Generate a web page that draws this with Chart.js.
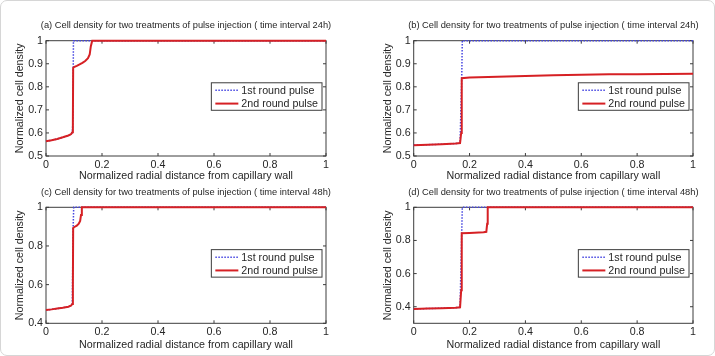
<!DOCTYPE html>
<html>
<head>
<meta charset="utf-8">
<script src="https://cdn.jsdelivr.net/npm/chart.js@4.4.0/dist/chart.umd.min.js"></script>
<style>
body { margin: 0; background: #fff; }
#wrap { position: relative; width: 715px; height: 356px; overflow: hidden; }
#frame { position: absolute; left: 0; top: 0; width: 713px; height: 354px; border: 1px solid #d6d6d6; border-radius: 7px; pointer-events: none; }
#wrap canvas { position: absolute; }
</style>
</head>
<body>
<div id="wrap">
    <canvas id="chartA" width="357" height="184" style="left:0;top:0"></canvas>
    <canvas id="chartB" width="358" height="184" style="left:357px;top:0"></canvas>
    <canvas id="chartC" width="357" height="172" style="left:0;top:184px"></canvas>
    <canvas id="chartD" width="358" height="172" style="left:357px;top:184px"></canvas>
    <div id="frame"></div>
</div>
<script>
// (a) 24h, first treatment / second treatment
var distA1 = [0, 0.02, 0.04, 0.06, 0.08, 0.09, 0.094, 0.096, 0.098, 1];
var densA1 = [0.564, 0.568, 0.574, 0.581, 0.589, 0.595, 0.603, 0.65, 1, 1];
var distA2 = [0, 0.02, 0.04, 0.06, 0.08, 0.09, 0.094, 0.096, 0.097, 0.1, 0.11, 0.12, 0.13, 0.14, 0.15, 0.156, 0.16, 0.165, 1];
var densA2 = [0.564, 0.568, 0.574, 0.581, 0.589, 0.595, 0.603, 0.65, 0.882, 0.886, 0.891, 0.897, 0.904, 0.912, 0.924, 0.94, 0.975, 1, 1];

// (b) 24h
var distB1 = [0, 0.05, 0.1, 0.15, 0.166, 0.172, 0.174, 1];
var densB1 = [0.547, 0.549, 0.551, 0.554, 0.556, 0.84, 1, 1];
var distB2 = [0, 0.05, 0.1, 0.15, 0.166, 0.17, 0.172, 0.2, 0.3, 0.4, 0.5, 0.6, 0.7, 0.8, 0.9, 1];
var densB2 = [0.547, 0.549, 0.551, 0.554, 0.556, 0.6, 0.837, 0.84, 0.844, 0.847, 0.85, 0.852, 0.854, 0.855, 0.856, 0.857];

// (c) 48h
var distC1 = [0, 0.02, 0.04, 0.06, 0.08, 0.09, 0.094, 0.097, 0.099, 1];
var densC1 = [0.469, 0.472, 0.476, 0.48, 0.486, 0.492, 0.5, 0.9, 1, 1];
var distC2 = [0, 0.02, 0.04, 0.06, 0.08, 0.09, 0.094, 0.096, 0.097, 0.1, 0.11, 0.117, 0.122, 0.125, 0.128, 1];
var densC2 = [0.469, 0.472, 0.476, 0.48, 0.486, 0.492, 0.5, 0.6, 0.893, 0.897, 0.905, 0.915, 0.93, 0.96, 1, 1];

// (d) 48h
var distD1 = [0, 0.05, 0.1, 0.15, 0.166, 0.172, 0.174, 1];
var densD1 = [0.387, 0.389, 0.391, 0.394, 0.397, 0.85, 1, 1];
var distD2 = [0, 0.05, 0.1, 0.15, 0.166, 0.17, 0.172, 0.2, 0.25, 0.26, 0.263, 0.265, 1];
var densD2 = [0.387, 0.389, 0.391, 0.394, 0.397, 0.5, 0.843, 0.845, 0.85, 0.852, 0.9, 1, 1];

var xTicks = [0, 0.2, 0.4, 0.6, 0.8, 1];
var yTicksTop = [0.5, 0.6, 0.7, 0.8, 0.9, 1];
var yTicksBottom = [0.4, 0.6, 0.8, 1];
var seriesNames = ['1st round pulse', '2nd round pulse'];
var panelTitles = [
    '(a) Cell density for two treatments of pulse injection ( time interval 24h)',
    '(b) Cell density for two treatments of pulse injection ( time interval 24h)',
    '(c) Cell density for two treatments of pulse injection ( time interval 48h)',
    '(d) Cell density for two treatments of pulse injection ( time interval 48h)'
];
var xLabel = 'Normalized radial distance from capillary wall';
var yLabel = 'Normalized cell density';

var fontName = '"Liberation Sans", Arial, Helvetica, sans-serif';
var textColor = '#262626';
var axisColor = '#3c3c3c';

function toPoints(xs, ys) {
    return xs.map(function (x, i) { return { x: x, y: ys[i] }; });
}

// MATLAB style box, inward ticks, title and legend
var matlabFrame = {
    id: 'matlabFrame',
    beforeDatasetsDraw: function (chart, args, opts) {
        var ctx = chart.ctx, a = chart.chartArea;
        var sx = chart.scales.x, sy = chart.scales.y;
        ctx.save();
        ctx.strokeStyle = axisColor;
        ctx.lineWidth = 1;
        ctx.strokeRect(a.left, a.top, a.right - a.left, a.bottom - a.top);
        ctx.beginPath();
        sx.ticks.forEach(function (t) {
            var px = sx.getPixelForValue(t.value);
            ctx.moveTo(px, a.bottom); ctx.lineTo(px, a.bottom - 3);
            ctx.moveTo(px, a.top); ctx.lineTo(px, a.top + 3);
        });
        sy.ticks.forEach(function (t) {
            var py = sy.getPixelForValue(t.value);
            ctx.moveTo(a.left, py); ctx.lineTo(a.left + 3, py);
            ctx.moveTo(a.right, py); ctx.lineTo(a.right - 3, py);
        });
        ctx.stroke();

        ctx.fillStyle = textColor;
        ctx.font = '9.3px ' + fontName;
        ctx.textAlign = 'center';
        ctx.textBaseline = 'middle';
        ctx.fillText(opts.title, (a.left + a.right) / 2, a.top - 15);
        ctx.restore();
    },
    afterDatasetsDraw: function (chart) {
        var ctx = chart.ctx, a = chart.chartArea;
        var sets = chart.data.datasets;
        ctx.save();
        ctx.font = '10.7px ' + fontName;
        var w = 0;
        sets.forEach(function (d) { w = Math.max(w, ctx.measureText(d.label).width); });
        var bw = 30 + w + 4, bh = 27.5;
        var bx = a.right - 4 - bw;
        var by = a.top + 0.365 * (a.bottom - a.top);
        ctx.fillStyle = '#fff';
        ctx.fillRect(bx, by, bw, bh);
        ctx.strokeStyle = axisColor;
        ctx.lineWidth = 1;
        ctx.strokeRect(bx, by, bw, bh);
        sets.forEach(function (d, i) {
            var ly = by + 7.5 + i * 13.3;
            ctx.strokeStyle = d.borderColor;
            ctx.lineWidth = d.borderWidth;
            ctx.setLineDash(d.borderDash || []);
            ctx.beginPath();
            ctx.moveTo(bx + 4, ly);
            ctx.lineTo(bx + 27, ly);
            ctx.stroke();
            ctx.setLineDash([]);
            ctx.fillStyle = textColor;
            ctx.textAlign = 'left';
            ctx.textBaseline = 'middle';
            ctx.fillText(d.label, bx + 30, ly + 0.5);
        });
        ctx.restore();
    }
};

function makePanel(id, title, d1, y1, d2, y2, yMin, yTicks, box) {
    var tickFont = { family: fontName, size: 10.7 };
    new Chart(document.getElementById(id), {
        type: 'line',
        data: {
            datasets: [{
                label: seriesNames[0],
                data: toPoints(d1, y1),
                borderColor: 'rgb(70,70,225)',
                borderWidth: 1.5,
                borderDash: [1.5, 1.5],
                pointRadius: 0,
                fill: false,
                clip: false,
                order: 2
            }, {
                label: seriesNames[1],
                data: toPoints(d2, y2),
                borderColor: 'rgb(214,32,36)',
                borderWidth: 2,
                pointRadius: 0,
                fill: false,
                clip: false,
                order: 1
            }]
        },
        options: {
            responsive: false,
            animation: false,
            layout: { padding: { top: box.top, right: box.right, left: 0, bottom: 0 } },
            plugins: {
                legend: { display: false },
                tooltip: { enabled: false },
                matlabFrame: { title: title }
            },
            scales: {
                x: {
                    type: 'linear',
                    min: 0,
                    max: 1,
                    afterBuildTicks: function (s) { s.ticks = xTicks.map(function (v) { return { value: v }; }); },
                    afterFit: function (s) { s.height = box.xh; },
                    grid: { display: false, drawTicks: false },
                    border: { display: false },
                    ticks: { autoSkip: false, maxRotation: 0, padding: 2.5, color: textColor, font: tickFont,
                        callback: function (v) { return String(v); } },
                    title: { display: true, text: xLabel, color: textColor, font: tickFont,
                        padding: { top: 0, bottom: box.xtb } }
                },
                y: {
                    type: 'linear',
                    min: yMin,
                    max: 1,
                    afterBuildTicks: function (s) { s.ticks = yTicks.map(function (v) { return { value: v }; }); },
                    afterFit: function (s) { s.width = box.yw; },
                    grid: { display: false, drawTicks: false },
                    border: { display: false },
                    ticks: { autoSkip: false, padding: 3, color: textColor, font: tickFont,
                        callback: function (v) { return String(v); } },
                    title: { display: true, text: yLabel, color: textColor, font: tickFont,
                        padding: { top: box.yw - 26 - 6.4, bottom: 0 } }
                }
            }
        },
        plugins: [matlabFrame]
    });
}

makePanel('chartA', panelTitles[0], distA1, densA1, distA2, densA2, 0.5, yTicksTop,
    { top: 40.7, right: 31, yw: 46, xh: 28, xtb: 1.1 });
makePanel('chartB', panelTitles[1], distB1, densB1, distB2, densB2, 0.5, yTicksTop,
    { top: 40.7, right: 22, yw: 56.7, xh: 28, xtb: 1.1 });
makePanel('chartC', panelTitles[2], distC1, densC1, distC2, densC2, 0.4, yTicksBottom,
    { top: 23.3, right: 31, yw: 46, xh: 32.7, xtb: 4.6 });
makePanel('chartD', panelTitles[3], distD1, densD1, distD2, densD2, 0.3, yTicksBottom,
    { top: 23.3, right: 22, yw: 56.7, xh: 32.7, xtb: 4.6 });
</script>
</body>
</html>
